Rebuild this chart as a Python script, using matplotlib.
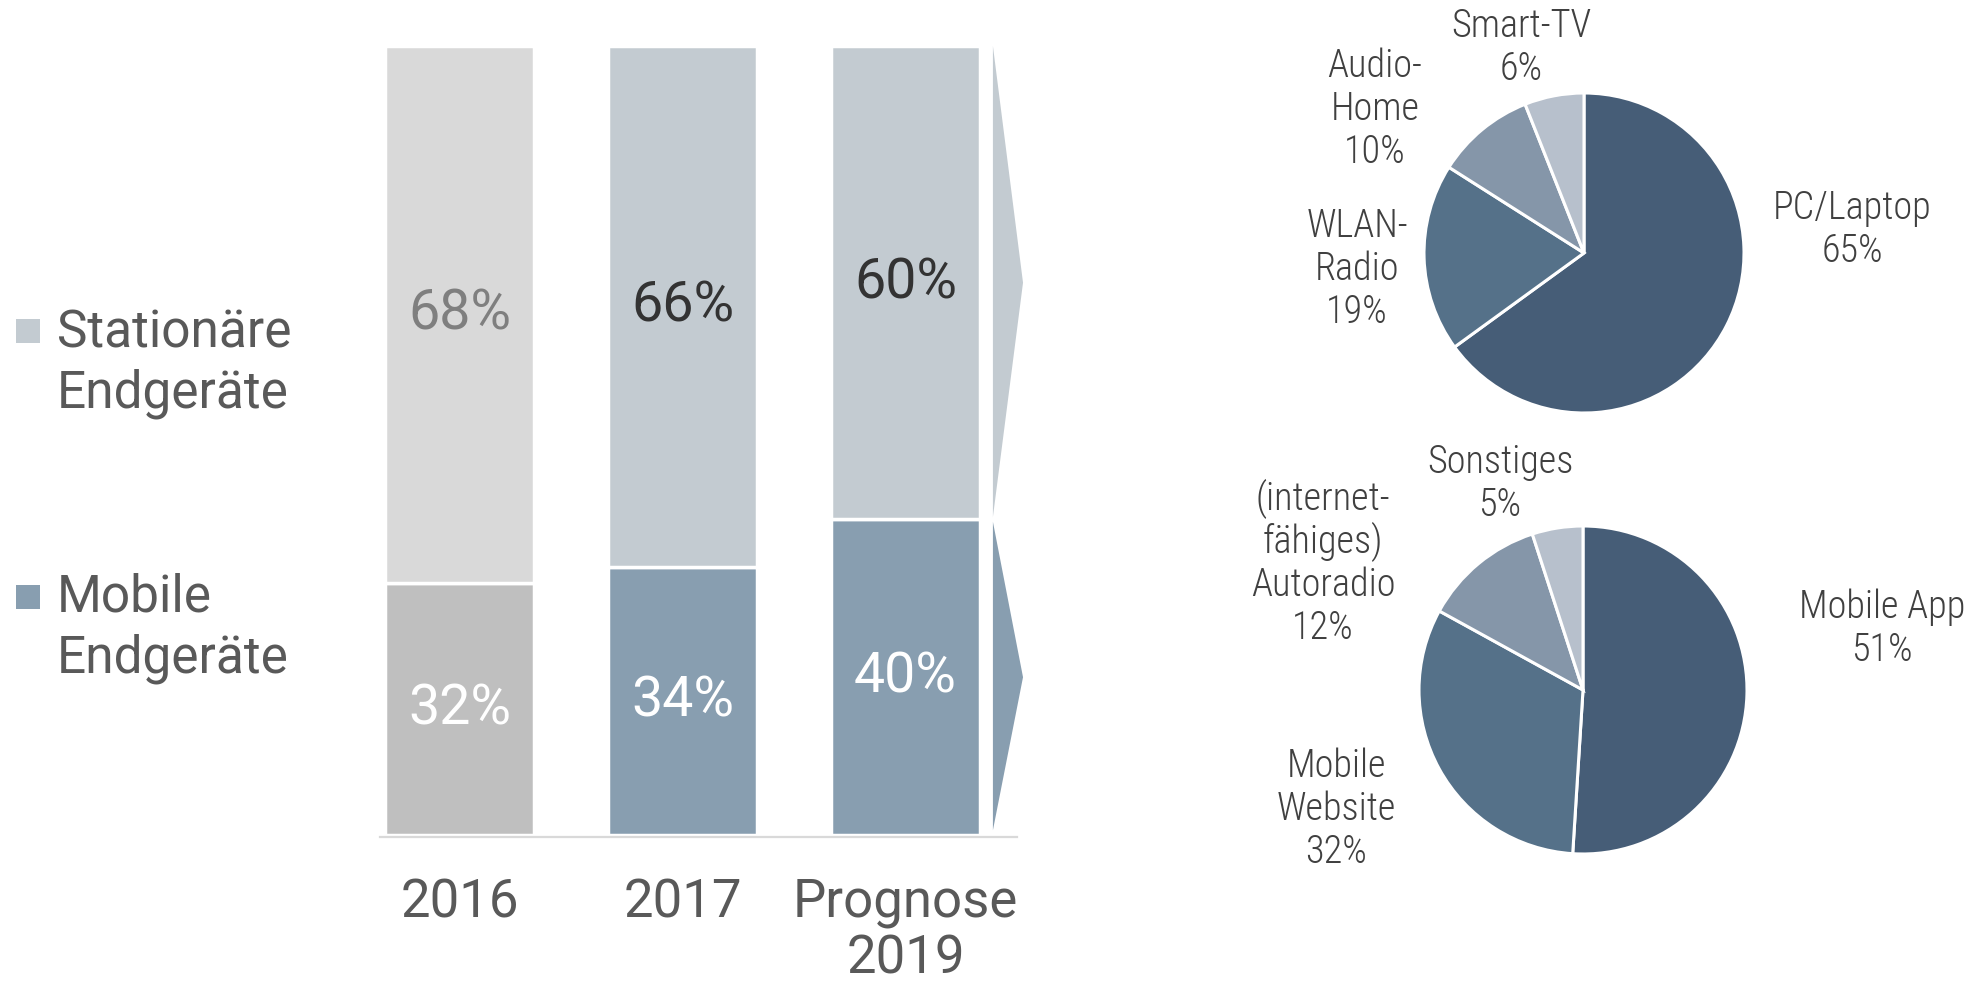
import matplotlib
matplotlib.use("Agg")
import matplotlib.pyplot as plt
from matplotlib.patches import Polygon, Rectangle
from matplotlib.transforms import blended_transform_factory

# ------------------------------------------------------------
# Daten
# ------------------------------------------------------------
years = ["2016", "2017", "Prognose\n2019"]
mobile = [32, 34, 40]
stationary = [68, 66, 60]

legend_labels = ["Stationäre\nEndgeräte", "Mobile\nEndgeräte"]

pie_top_labels = ["PC/Laptop", "WLAN-\nRadio", "Audio-\nHome", "Smart-TV"]
pie_top_values = [65, 19, 10, 6]

pie_bottom_labels = ["Mobile App", "Mobile\nWebsite", "(internet-\nfähiges)\nAutoradio", "Sonstiges"]
pie_bottom_values = [51, 32, 12, 5]

# ------------------------------------------------------------
# Farben / Schrift
# ------------------------------------------------------------
W, H = 1988, 984
STAT_GREY, MOB_GREY = "#d9d9d9", "#bfbfbf"
STAT_BLUE, MOB_BLUE = "#c3cbd1", "#889eb0"
PIE_COLORS = ["#465d77", "#557189", "#8596a9", "#b7c0cc"]
TEXT_GREY = "#595959"
PIE_TEXT = "#404040"

FONT = "Roboto"
FONT_PIE = "Roboto Condensed"

fig = plt.figure(figsize=(W / 100, H / 100), dpi=100)


def fx(x):
    return x / W


def fy(y):
    return 1 - y / H


def lines_at(x, y0, text, step, **kw):
    # mehrzeiligen Text zeilenweise auf feste Grundlinien setzen
    for i, line in enumerate(text.split("\n")):
        fig.text(fx(x), fy(y0 + i * step), line, ha="center", va="baseline", **kw)


# ------------------------------------------------------------
# Gestapelte Säulen
# ------------------------------------------------------------
px_per_unit = 223
left_px = 459.5 - 0.6 * px_per_unit
ax = fig.add_axes([fx(left_px), fy(835), fx(3.3 * px_per_unit), 789 / H])
ax.set_xlim(-0.6, 2.7)
ax.set_ylim(0, 100)
ax.axis("off")

x = list(range(len(years)))
bottom_colors = [MOB_GREY, MOB_BLUE, MOB_BLUE]
top_colors = [STAT_GREY, STAT_BLUE, STAT_BLUE]
ax.bar(x, mobile, width=0.665, color=bottom_colors, edgecolor="white", linewidth=2.5)
ax.bar(x, stationary, bottom=mobile, width=0.665, color=top_colors,
       edgecolor="white", linewidth=2.5)

top_text_colors = ["#7f7f7f", "#333333", "#333333"]
for i in x:
    ax.text(i, mobile[i] / 2, f"{mobile[i]}%", ha="center", va="center",
            fontsize=40, color="white", family=FONT)
    ax.text(i, mobile[i] + stationary[i] / 2, f"{stationary[i]}%", ha="center",
            va="center", fontsize=40, color=top_text_colors[i], family=FONT)

# Grundlinie
ax.plot([-0.357, 2.5], [-0.25, -0.25], color="#d9d9d9", lw=1.6, clip_on=False)

# Pfeile rechts neben der Prognose-Säule
xl, xt = 2.392, 2.527
m = mobile[2]
ax.add_patch(Polygon([(xl, 100), (xt, (100 + m) / 2), (xl, m + 0.3)],
                     closed=True, facecolor=STAT_BLUE, edgecolor="none", clip_on=False))
ax.add_patch(Polygon([(xl, m - 0.3), (xt, m / 2), (xl, 0.6)],
                     closed=True, facecolor=MOB_BLUE, edgecolor="none", clip_on=False))

# Achsenbeschriftung
trans = blended_transform_factory(ax.transData, fig.transFigure)
for i, lab in enumerate(years):
    for j, line in enumerate(lab.split("\n")):
        ax.text(i, fy(917 + j * 57), line, transform=trans, ha="center",
                va="baseline", fontsize=38, color=TEXT_GREY, family=FONT)

# Legende
legend_colors = [STAT_BLUE, MOB_BLUE]
legend_y = [(319, 347), (585, 612)]
for lab, col, (sq_y, base_y) in zip(legend_labels, legend_colors, legend_y):
    fig.patches.append(Rectangle((fx(16), fy(sq_y + 24)), 24 / W, 24 / H,
                                 transform=fig.transFigure, facecolor=col,
                                 edgecolor="none"))
    for j, line in enumerate(lab.split("\n")):
        fig.text(fx(57), fy(base_y + j * 61), line, ha="left", va="baseline",
                 fontsize=37, color=TEXT_GREY, family=FONT)


# ------------------------------------------------------------
# Kreisdiagramme
# ------------------------------------------------------------
def pie_at(cx, cy, r, values):
    pax = fig.add_axes([fx(cx - r), fy(cy + r), 2 * r / W, 2 * r / H])
    pax.pie(values, colors=PIE_COLORS, startangle=90, counterclock=False,
            wedgeprops=dict(edgecolor="white", linewidth=2.2))
    pax.set_xlim(-1, 1)
    pax.set_ylim(-1, 1)
    pax.set_aspect("auto")
    pax.axis("off")
    return pax


pie_at(1584, 253, 160, pie_top_values)
pie_at(1583, 690, 164, pie_bottom_values)

pie_kw = dict(fontsize=27.5, color=PIE_TEXT, family=FONT_PIE, fontweight="light")

# Beschriftungspositionen (Mitte x, erste Grundlinie y)
top_pos = [(1852, 219), (1357, 237), (1375, 77), (1521, 37)]
bottom_pos = [(1882, 618), (1336, 777), (1323, 510), (1500, 473)]

for lab, val, (px, py) in zip(pie_top_labels, pie_top_values, top_pos):
    lines_at(px, py, f"{lab}\n{val}%", 43, **pie_kw)
for lab, val, (px, py) in zip(pie_bottom_labels, pie_bottom_values, bottom_pos):
    lines_at(px, py, f"{lab}\n{val}%", 43, **pie_kw)

fig.savefig("out.png", dpi=100)
